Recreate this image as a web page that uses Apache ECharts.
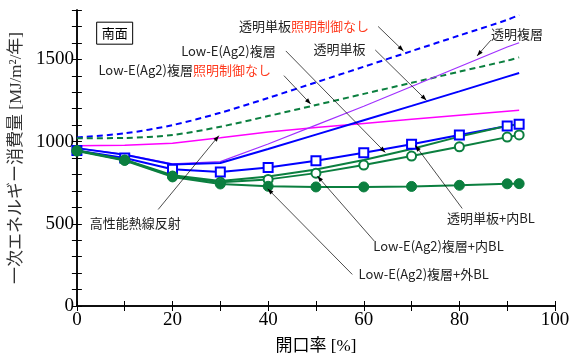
<!DOCTYPE html>
<html><head><meta charset="utf-8">
<script src="https://cdn.jsdelivr.net/npm/echarts@6/dist/echarts.min.js"></script>
<style>html,body{margin:0;padding:0;background:#fff}#c{width:573px;height:360px}</style>
</head><body><div id="c"></div>
<script>
const openingRatio = [0,10,20,30,40,50,60,70,80,90,92.5];
const clearSingleNoCtrl = [1025,1050,1100,1175,1265,1360,1455,1550,1645,1740,1770];
const lowENoCtrl = [1020,1022,1040,1090,1155,1222,1290,1357,1425,1492,1512];
const heatReflective = [975,978,990,1023,1058,1086,1110,1135,1160,1184,1190];
const clearDouble = [960,922,865,878,985,1100,1215,1335,1455,1575,1601];
const clearSingle = [960,920,860,870,955,1042,1130,1217,1305,1395,1417];
const clearSingleInBL = [945,900,832,815,842,883,932,983,1040,1095,1105];
const lowEDouble = [945,890,795,760,788,830,888,955,1030,1096,1105];
const lowEInBL = [945,888,790,752,770,808,857,912,968,1027,1040];
const lowEOutBL = [942,885,785,742,728,724,724,727,734,743,744];
const xTickLabels = [0,20,40,60,80,100];
const yTickLabels = [0,500,1000,1500];

const BLUE = '#0000ff', GREEN = '#0b7f3f', MAG = '#ff00ff', PURP = '#a030ff';
const pairs = v => openingRatio.map((x,i)=>[x,v[i]]);
const axisCommon = {
  type:'value', min:0,
  axisLine:{show:true,lineStyle:{color:'#000',width:1.5}},
  axisTick:{show:true,inside:true,length:5,lineStyle:{color:'#000',width:1}},
  splitLine:{show:false}
};
const serif = '"Liberation Serif","Times New Roman","Noto Sans CJK JP",serif';
const sans = '"Noto Sans CJK JP","Noto Sans",sans-serif';

const chart = echarts.init(document.getElementById('c'), null, {renderer:'canvas'});
const option = {
  animation:false,
  backgroundColor:'#fff',
  grid:{left:75, right:18, top:10, bottom:49, containLabel:false},
  xAxis:[
    Object.assign({}, axisCommon, {max:100, interval:10, position:'bottom',
      axisLabel:{show:true, margin:5, color:'#000', fontFamily:serif, fontSize:19,
        formatter:v=> xTickLabels.includes(v) ? String(v) : ''},
      name:'開口率 [%]', nameLocation:'middle', nameGap:32,
      nameTextStyle:{color:'#000', fontFamily:serif, fontSize:17}}),
    Object.assign({}, axisCommon, {max:100, interval:10, position:'top', axisLabel:{show:false}})
  ],
  yAxis:[
    Object.assign({}, axisCommon, {max:1800, interval:100, position:'left',
      axisLabel:{show:true, margin:3, color:'#000', fontFamily:serif, fontSize:19,
        formatter:v=> yTickLabels.includes(v) ? String(v) : ''},
      name:'一次エネルギー消費量 [MJ/m²/年]', nameLocation:'middle', nameGap:44, nameRotate:90,
      nameTextStyle:{color:'#333', fontFamily:serif, fontSize:17}}),
    Object.assign({}, axisCommon, {max:1800, interval:100, position:'right', axisLabel:{show:false}})
  ],
  series:[
    {type:'line', data:pairs(clearSingleNoCtrl), smooth:0.3, showSymbol:false, lineStyle:{color:BLUE,width:2,type:[6,4]}, z:2},
    {type:'line', data:pairs(lowENoCtrl), smooth:0.3, showSymbol:false, lineStyle:{color:GREEN,width:2,type:[6,4]}, z:2},
    {type:'line', data:pairs(heatReflective), showSymbol:false, lineStyle:{color:MAG,width:1.5}, z:2},
    {type:'line', data:pairs(clearDouble), showSymbol:false, lineStyle:{color:PURP,width:1.2}, z:2},
    {type:'line', data:pairs(clearSingle), showSymbol:false, lineStyle:{color:BLUE,width:2}, z:2},
    {type:'line', data:pairs(clearSingleInBL), symbol:'rect', symbolSize:9, showAllSymbol:true,
      itemStyle:{color:'#fff', borderColor:BLUE, borderWidth:2}, lineStyle:{color:BLUE,width:2}, z:3},
    {type:'line', data:pairs(lowEDouble), showSymbol:false, lineStyle:{color:GREEN,width:2}, z:3},
    {type:'line', data:pairs(lowEInBL), symbol:'circle', symbolSize:9, showAllSymbol:true,
      itemStyle:{color:'#fff', borderColor:GREEN, borderWidth:2}, lineStyle:{color:GREEN,width:2}, z:4},
    {type:'line', data:pairs(lowEOutBL), symbol:'circle', symbolSize:10, showAllSymbol:true,
      itemStyle:{color:GREEN, borderColor:GREEN, borderWidth:1}, lineStyle:{color:GREEN,width:2}, z:5}
  ]
};
chart.setOption(option);

// annotations in data coordinates: label anchor (left, middle), arrow tail, arrow tip
const annotations = [
  {t:'{k|透明単板}{r|照明制御なし}', at:[33.9,1700], tail:[63.0,1700], tip:[68.3,1551]},
  {t:'{k|Low-E(Ag2)複層}', at:[21.8,1551], tail:[43.7,1551], tip:[64.5,934]},
  {t:'{k|Low-E(Ag2)複層}{r|照明制御なし}', at:[4.5,1437], tail:[43.3,1401], tip:[48.9,1228]},
  {t:'{k|透明単板}', at:[49.5,1563], tail:[62.4,1557], tip:[73.1,1251]},
  {t:'{k|透明複層}', at:[86.6,1653], tail:[86.6,1617], tip:[83.7,1521]},
  {t:'{k|高性能熱線反射}', at:[2.7,503], tail:[17.0,587], tip:[29.7,1036]},
  {t:'{k|透明単板+内BL}', at:[77.4,533], tail:[80.6,593], tip:[70.8,976]},
  {t:'{k|Low-E(Ag2)複層+内BL}', at:[62.0,365], tail:[62.2,395], tip:[50.3,790]},
  {t:'{k|Low-E(Ag2)複層+外BL}', at:[58.9,192], tail:[57.6,192], tip:[39.9,713]}
];
const px = p => chart.convertToPixel({xAxisIndex:0, yAxisIndex:0}, p);
const rich = {
  k:{fill:'#222', color:'#222', fontFamily:sans, fontSize:13},
  r:{fill:'#ff3b1f', color:'#ff3b1f', fontFamily:sans, fontSize:13}
};
const graphics = [];
annotations.forEach(a=>{
  const p = px(a.at), t = px(a.tail), h = px(a.tip);
  graphics.push({type:'text', x:p[0], y:p[1], z:10, style:{text:a.t, rich:rich, verticalAlign:'middle', align:'left'}});
  graphics.push({type:'line', z:10, shape:{x1:t[0],y1:t[1],x2:h[0],y2:h[1]}, style:{stroke:'#000', lineWidth:0.7}});
  const ang = Math.atan2(h[1]-t[1], h[0]-t[0]), L=6, W=2.2;
  const bx = h[0]-L*Math.cos(ang), by = h[1]-L*Math.sin(ang);
  const nx = -Math.sin(ang)*W, ny = Math.cos(ang)*W;
  graphics.push({type:'polygon', z:10, shape:{points:[[h[0],h[1]],[bx+nx,by+ny],[bx-nx,by-ny]]}, style:{fill:'#000'}});
});
const box = px([7.9,1659]);
graphics.push({type:'rect', z:10, shape:{x:box[0]-18, y:box[1]-11, width:36, height:22}, style:{fill:'#fff', stroke:'#000', lineWidth:1}});
graphics.push({type:'text', z:11, x:box[0], y:box[1], style:{text:'南面', fill:'#000', font:'13px '+sans, align:'center', verticalAlign:'middle'}});
chart.setOption({graphic:graphics});
</script></body></html>
